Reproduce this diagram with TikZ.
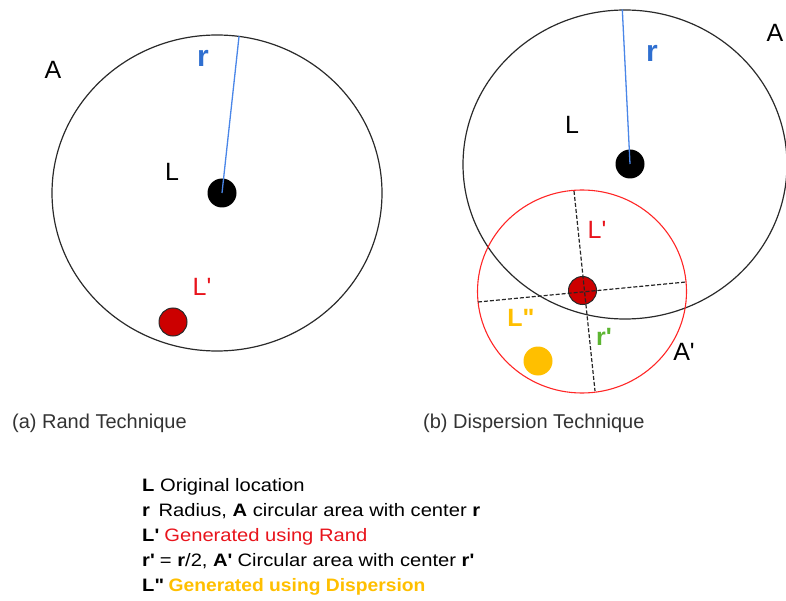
\documentclass[tikz,border=0pt]{standalone}
\usepackage{fontspec}
\setmainfont{Liberation Sans}
\newfontfamily\legendfont[FakeStretch=1.12]{Liberation Sans}
\usetikzlibrary{shapes.geometric}
\definecolor{rblue}{HTML}{2F6FD0}
\definecolor{lblue}{HTML}{4A86E8}
\definecolor{lred}{HTML}{E8141C}
\definecolor{dred}{HTML}{CC0000}
\definecolor{gold}{HTML}{FFBF00}
\definecolor{rgreen}{HTML}{5CB531}
\definecolor{edge}{HTML}{2A2A2A}
\begin{document}
\begin{tikzpicture}[x=1pt,y=-1pt,
  lbl/.style={inner sep=0pt, font=\fontsize{25}{25}\selectfont},
  rlbl/.style={inner sep=0pt, font=\fontsize{30}{30}\selectfont\bfseries, text=rblue},
  dot/.style={circle, minimum size=29pt, inner sep=0pt},
  area/.style={ellipse, draw=edge, line width=1.2pt, inner sep=0pt},
  radius/.style={draw=lblue, line width=1.3pt},
  dashline/.style={draw=black!85, line width=1.2pt, dash pattern=on 4pt off 2pt},
  caption/.style={inner sep=0pt, anchor=base west, font=\fontsize{20}{20}\selectfont, text=black!80},
  legend/.style={inner sep=0pt, anchor=base west, font=\legendfont\fontsize{18}{18}\selectfont}]
\useasboundingbox (0,0) rectangle (786,601);

% ---- (a) Rand technique
\node[area, minimum width=330pt, minimum height=316pt] (Aa) at (217,193) {};
\node[dot, fill=black] (La) at (222,193) {};
\draw[radius] (La.center) -- (Aa.82);
\node[dot, fill=dred, draw=edge, line width=1pt, minimum size=28pt] (Lpa) at (173,322) {};
\node[lbl] (Atxt) at (53,70) {A};
\node[rlbl] (rtxta) at (203,58) {r};
\node[lbl] (Ltxta) at (172,172) {L};
\node[lbl, text=lred] (Lptxta) at (202,287) {L\textquotesingle};

% ---- (b) Dispersion technique
\node[area, minimum width=324pt, minimum height=309pt] (Ab) at (625,164.5) {};
\node[dot, fill=black] (Lb) at (630,164) {};
\draw[radius] (Lb.center) -- (Ab.91);
\node[ellipse, draw=red!85, line width=1.1pt, minimum width=209pt, minimum height=203pt, inner sep=0pt] (Apb) at (582,291.5) {};
\node[dot, fill=dred, draw=edge, line width=1pt, minimum size=28pt] (Lpb) at (582.5,290.5) {};
\coordinate (v1) at (574,191);
\coordinate (v2) at (595,391);
\coordinate (h1) at (478,302);
\coordinate (h2) at (686,282);
\draw[dashline] (v1) -- (v2);
\draw[dashline] (h1) -- (h2);
\node[dot, fill=gold] (Lppb) at (538,361) {};
\node[lbl] (Btxt) at (775,33) {A};
\node[rlbl] (rtxtb) at (652,53) {r};
\node[lbl] (Ltxtb) at (572,125) {L};
\node[lbl, text=lred] (Lptxtb) at (597,230) {L\textquotesingle};
\node[lbl, text=gold, font=\fontsize{25}{25}\selectfont\bfseries] (Lpptxt) at (521,318) {L\textquotedbl};
\node[lbl, text=rgreen, font=\fontsize{25}{25}\selectfont\bfseries] (rptxt) at (604,337) {r\textquotesingle};
\node[lbl] (Aptxt) at (684,352) {A\textquotesingle};

% ---- captions
\node[caption] (capa) at (12,428) {(a) Rand Technique};
\node[caption] (capb) at (423,428) {(b) Dispersion Technique};

% ---- legend
\node[legend] (l1) at (142,491) {\textbf{L} Original location};
\node[legend] (l2) at (142,516.5) {\textbf{r}\, Radius, \textbf{A} circular area with center \textbf{r}};
\node[legend] (l3) at (142,541.5) {\textbf{L\textquotesingle} \textcolor{lred}{Generated using Rand}};
\node[legend] (l4) at (142,566.5) {\textbf{r\textquotesingle} = \textbf{r}/2, \textbf{A\textquotesingle} Circular area with center \textbf{r\textquotesingle}};
\node[legend] (l5) at (142,591) {\textbf{L\textquotedbl} \textcolor{gold}{\scalebox{0.955}[1]{\textbf{Generated using Dispersion}}}};
\end{tikzpicture}
\end{document}
